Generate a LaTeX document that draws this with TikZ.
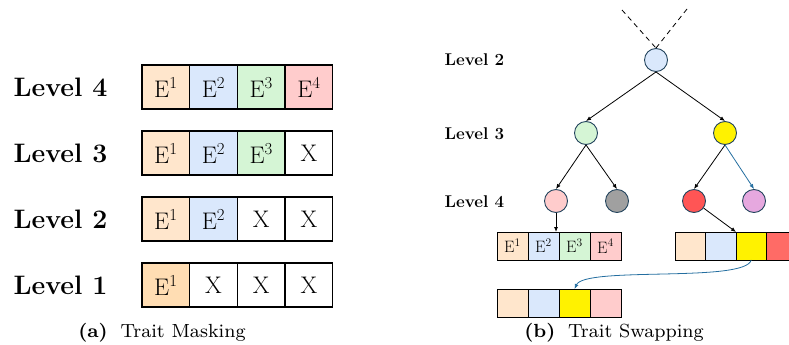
\documentclass[tikz,border=0pt]{standalone}
\usepackage{fontspec}
\usepackage{tikz}
\usetikzlibrary{positioning,arrows.meta}

\newfontfamily\capfont{lmroman8-regular.otf}[BoldFont=lmroman8-bold.otf]

\definecolor{cOrange}{HTML}{FFE6CC}
\definecolor{cOrangeD}{HTML}{FFDDB3}
\definecolor{cBlue}{HTML}{DAE8FC}
\definecolor{cGreen}{HTML}{D5F5D5}
\definecolor{cRed}{HTML}{FFCCCC}
\definecolor{cRedD}{HTML}{FF5555}
\definecolor{cRedC}{HTML}{FF6B66}
\definecolor{cGray}{HTML}{A0A0A0}
\definecolor{cViolet}{HTML}{E6A8DF}
\definecolor{cEdge}{HTML}{23445D}
\definecolor{cArrow}{HTML}{246EA0}

\newcommand{\ee}[1]{E\textsuperscript{#1}}

\begin{document}
\begin{tikzpicture}[x=1pt,y=-1pt,
        cell/.style={draw,line width=1.3pt,inner sep=0pt,outer sep=0pt,minimum width=47.7pt,minimum height=44pt,font=\fontsize{24}{26}\selectfont},
        scell/.style={draw,line width=1pt,inner sep=0pt,outer sep=0pt,minimum width=31pt,minimum height=28pt,font=\fontsize{16.5}{18}\selectfont},
        rcell/.style={scell,minimum width=30.5pt},
        bigl/.style={anchor=west,font=\fontsize{26.7}{30}\selectfont\bfseries},
        smalll/.style={anchor=west,font=\fontsize{17}{20}\selectfont\bfseries},
        ball/.style={draw=cEdge,line width=0.9pt,circle,minimum size=23pt,inner sep=0pt},
        arr/.style={-{Latex[length=5pt,width=4pt]},line width=0.8pt},
        capt/.style={font=\capfont\fontsize{19}{22}\selectfont}]

    \useasboundingbox (0,0) rectangle (789,345);

    % (a) trait masking
    \node[bigl] (lab4) at (10,87) {Level 4};
    \node[bigl] (lab3) at (10,153) {Level 3};
    \node[bigl] (lab2) at (10,219) {Level 2};
    \node[bigl] (lab1) at (10,285) {Level 1};

    \node[cell,fill=cOrange] (m41) at (165.85,87) {\ee1};
    \node[cell,fill=cBlue,right=0pt of m41] (m42) {\ee2};
    \node[cell,fill=cGreen,right=0pt of m42] (m43) {\ee3};
    \node[cell,fill=cRed,right=0pt of m43] (m44) {\ee4};

    \node[cell,fill=cOrange] (m31) at (165.85,153) {\ee1};
    \node[cell,fill=cBlue,right=0pt of m31] (m32) {\ee2};
    \node[cell,fill=cGreen,right=0pt of m32] (m33) {\ee3};
    \node[cell,right=0pt of m33] (m34) {X};

    \node[cell,fill=cOrange] (m21) at (165.85,219) {\ee1};
    \node[cell,fill=cBlue,right=0pt of m21] (m22) {\ee2};
    \node[cell,right=0pt of m22] (m23) {X};
    \node[cell,right=0pt of m23] (m24) {X};

    \node[cell,fill=cOrangeD] (m11) at (165.85,285) {\ee1};
    \node[cell,right=0pt of m11] (m12) {X};
    \node[cell,right=0pt of m12] (m13) {X};
    \node[cell,right=0pt of m13] (m14) {X};

    \node[capt] (capa) at (162,333) {\textbf{(a)}\hspace{6pt} Trait Masking};

    % (b) trait swapping
    \node[smalll] (tl2) at (441,60) {Level 2};
    \node[smalll] (tl3) at (441,134) {Level 3};
    \node[smalll] (tl4) at (441,202) {Level 4};

    \node[ball,fill=cBlue] (root) at (656,60) {};
    \node[ball,fill=cGreen] (ga) at (586,133) {};
    \node[ball,fill=yellow] (gb) at (725,133) {};
    \node[ball,fill=cRed] (ha) at (556,201) {};
    \node[ball,fill=cGray] (hb) at (617,201) {};
    \node[ball,fill=cRedD] (hc) at (694,201) {};
    \node[ball,fill=cViolet] (hd) at (754,201) {};

    \coordinate (upl) at (622,10);
    \coordinate (upr) at (687,9);
    \draw[dashed,dash pattern=on 5pt off 4pt,line width=0.8pt] (upl) -- (root.north);
    \draw[dashed,dash pattern=on 5pt off 4pt,line width=0.8pt] (upr) -- (root.north);

    \draw[arr] (root.south) -- (ga.north);
    \draw[arr] (root.south) -- (gb.north);
    \draw[arr] (ga.south) -- (ha.north);
    \draw[arr] (ga.south) -- (hb.north);
    \draw[arr] (gb.south) -- (hc.north);
    \draw[arr,cArrow] (gb.south) -- (hd.north);

    \node[scell,fill=cOrange] (sa1) at (512.5,246) {\ee1};
    \node[scell,fill=cBlue,right=0pt of sa1] (sa2) {\ee2};
    \node[scell,fill=cGreen,right=0pt of sa2] (sa3) {\ee3};
    \node[scell,fill=cRed,right=0pt of sa3] (sa4) {\ee4};

    \node[rcell,fill=cOrange] (sb1) at (690.25,246) {};
    \node[rcell,fill=cBlue,right=0pt of sb1] (sb2) {};
    \node[rcell,fill=yellow,right=0pt of sb2] (sb3) {};
    \node[rcell,fill=cRedC,right=0pt of sb3] (sb4) {};

    \node[scell,fill=cOrange] (sc1) at (512.5,303) {};
    \node[scell,fill=cBlue,right=0pt of sc1] (sc2) {};
    \node[scell,fill=yellow,right=0pt of sc2] (sc3) {};
    \node[scell,fill=cRed,right=0pt of sc3] (sc4) {};

    \draw[arr] (ha.south) -- (ha.south |- sa2.north);
    \draw[arr] (hc) -- (sb3.north west);
    \draw[arr,cArrow] (sb3.south) .. controls (745,283) and (585,266) .. (sc3.north);

    \node[capt] (capb) at (614,333) {\textbf{(b)}\hspace{6pt} Trait Swapping};
\end{tikzpicture}
\end{document}
